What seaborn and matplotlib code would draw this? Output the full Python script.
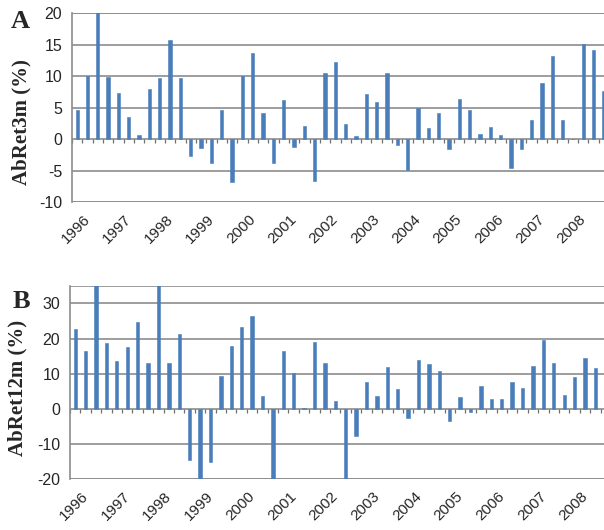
import numpy as np
import pandas as pd
import matplotlib
matplotlib.use("Agg")
import matplotlib.pyplot as plt
import matplotlib.markers as mmarkers
import matplotlib.transforms as mtransforms
import seaborn as sns

# ==========================================
# Data (quarterly abnormal returns, %)
# ==========================================
YEARS = list(range(1996, 2009))
QUARTERS = [f"{y}Q{q}" for y in YEARS for q in range(1, 5)]
YEAR_LABELS = [str(y) for y in YEARS]

ABRET_3M = [4.6, 10.1, 20.3, 9.9, 7.3, 3.6, 0.7, 8.0, 9.8, 15.7,
            9.8, -2.6, -1.4, -3.8, 4.6, -6.7, 10.0, 13.7, 4.2, -3.7,
            6.2, -1.2, 2.1, -6.6, 10.5, 12.3, 2.5, 0.6, 7.2, 5.9,
            10.5, -0.9, -4.8, 5.0, 1.8, 4.2, -1.5, 6.4, 4.6, 0.8,
            2.0, 0.7, -4.6, -1.5, 3.0, 8.9, 13.3, 3.0, 0.1, 15.2,
            14.2, 7.6]

# 12m return not available for the last quarter
ABRET_12M = [22.6, 16.4, 36.0, 18.8, 13.6, 17.7, 24.8, 13.1, 36.0, 13.0,
             21.4, -14.6, -21.0, -15.2, 9.3, 18.0, 23.2, 26.3, 3.7, -21.0,
             16.6, 10.2, 0.2, 18.9, 13.0, 2.3, -21.0, -7.8, 7.7, 3.8,
             11.9, 5.7, -2.5, 13.9, 12.7, 10.8, -3.5, 3.5, -0.9, 6.6,
             2.7, 2.7, 7.7, 5.9, 12.1, 19.6, 13.1, 4.1, 9.1, 14.5,
             11.7]

BAR_COLOR = '#4A7EBB'
GRID_COLOR = '#8C8C8C'

sns.set_style("white")
plt.rcParams['font.family'] = ['Liberation Sans', 'DejaVu Sans']


def draw_panel(ax, values, ylim, yticks):
    df = pd.DataFrame({'quarter': QUARTERS[:len(values)], 'ret': values})
    sns.barplot(data=df, x='quarter', y='ret', order=QUARTERS, ax=ax,
                color=BAR_COLOR, saturation=1, width=0.32, errorbar=None,
                edgecolor=BAR_COLOR, linewidth=0.4)
    ax.set_xlim(-0.5, len(QUARTERS) - 0.5)
    ax.set_ylim(*ylim)
    ax.set_yticks(yticks)
    ax.set_yticklabels([str(t) for t in yticks], fontsize=11.5)
    ax.yaxis.grid(True, color=GRID_COLOR, linewidth=1.2)
    ax.set_axisbelow(True)

    for side in ['top', 'right', 'bottom']:
        ax.spines[side].set_visible(False)
    ax.spines['left'].set_color(GRID_COLOR)
    ax.spines['left'].set_linewidth(1.2)
    ax.axhline(ylim[1], color=GRID_COLOR, linewidth=1.2, zorder=0)
    ax.axhline(ylim[0], color=GRID_COLOR, linewidth=1.2, zorder=0)
    ax.tick_params(axis='y', direction='out', length=4, color=GRID_COLOR,
                   width=1.0, pad=3)

    # category tick marks on the zero line
    bounds = np.arange(-0.5, len(QUARTERS), 1.0)
    ax.plot(bounds, np.zeros_like(bounds), linestyle='none',
            marker=mmarkers.TICKDOWN, markersize=3, color='#707070',
            markeredgewidth=0.9, clip_on=False, zorder=1)

    ax.set_xticks(range(0, len(QUARTERS), 4))
    ax.set_xticklabels(YEAR_LABELS, rotation=45, ha='right',
                       rotation_mode='anchor', fontsize=11)
    ax.tick_params(axis='x', length=0, pad=7)
    shift = mtransforms.ScaledTranslation(6 / 100, 0, ax.figure.dpi_scale_trans)
    for lbl in ax.get_xticklabels():
        lbl.set_transform(lbl.get_transform() + shift)
    ax.set_xlabel('')
    ax.set_ylabel('')


fig = plt.figure(figsize=(6.04, 5.30), dpi=100)

ax_a = fig.add_axes([72 / 604, 1 - 202.3 / 530, 537 / 604, 189 / 530])
draw_panel(ax_a, ABRET_3M, (-10, 20), [-10, -5, 0, 5, 10, 15, 20])

ax_b = fig.add_axes([70 / 604, 1 - 479.3 / 530, 541 / 604, 193.5 / 530])
draw_panel(ax_b, ABRET_12M, (-20, 35), [-20, -10, 0, 10, 20, 30])

serif = ['Liberation Serif', 'DejaVu Serif']
fig.text(20 / 604, 1 - 21 / 530, 'A', fontsize=19, fontweight='bold',
         family=serif, ha='center', va='center')
fig.text(21 / 604, 1 - 301 / 530, 'B', fontsize=19, fontweight='bold',
         family=serif, ha='center', va='center')
fig.text(21 / 604, 1 - 122 / 530, 'AbRet3m (%)', fontsize=15, fontweight='bold',
         family=serif, rotation=90, ha='center', va='center')
fig.text(17 / 604, 1 - 388 / 530, 'AbRet12m (%)', fontsize=15, fontweight='bold',
         family=serif, rotation=90, ha='center', va='center')

fig.savefig('out.png', dpi=100)
